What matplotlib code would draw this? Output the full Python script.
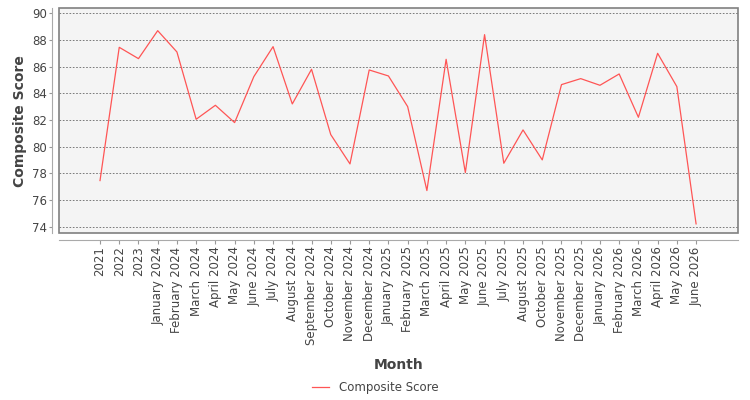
import matplotlib
matplotlib.use("Agg")
import matplotlib.pyplot as plt
from matplotlib.patches import Rectangle

months = ["2021", "2022", "2023",
          "January 2024", "February 2024", "March 2024", "April 2024", "May 2024", "June 2024",
          "July 2024", "August 2024", "September 2024", "October 2024", "November 2024",
          "December 2024", "January 2025", "February 2025", "March 2025", "April 2025",
          "May 2025", "June 2025", "July 2025", "August 2025", "October 2025",
          "November 2025", "December 2025", "January 2026", "February 2026", "March 2026",
          "April 2026", "May 2026", "June 2026"]
scores = [77.45, 87.45, 86.6, 88.7, 87.1, 82.05, 83.1, 81.8, 85.25,
          87.5, 83.2, 85.8, 80.9, 78.7, 85.75, 85.3, 83.0, 76.7, 86.55,
          78.05, 88.4, 78.75, 81.25, 79.0, 84.65, 85.1, 84.6, 85.45, 82.2,
          87.0, 84.5, 74.2]
yticks = [74, 76, 78, 80, 82, 84, 86, 88, 90]

fig = plt.figure(figsize=(7.5, 4), dpi=100)
ax = fig.add_axes([0.079, 0.417, 0.905, 0.562])

x = list(range(len(months)))
ax.plot(x, scores, color="#ff5555", linewidth=0.9, label="Composite Score")

ax.set_facecolor("#f4f4f4")

# offset axis lines first (this resets tick settings)
for s in ["top", "right"]:
    ax.spines[s].set_visible(False)
for s in ["left", "bottom"]:
    ax.spines[s].set_position(("outward", 5))
    ax.spines[s].set_color("#aaaaaa")
    ax.spines[s].set_linewidth(0.8)
ax.add_patch(Rectangle((0, 0), 1, 1, transform=ax.transAxes, fill=False,
                       edgecolor="#808080", linewidth=1.2, clip_on=False, zorder=5))

ax.set_xlim(-2.12, len(months) - 1 + 2.18)
ax.set_ylim(73.5, 90.37)
ax.set_yticks(yticks)
ax.set_xticks(x)
ax.set_xticklabels(months, rotation=90, fontsize=8.5, color="#444444")
ax.tick_params(axis="y", labelsize=8.5, labelcolor="#444444", color="#999999", length=2, pad=2)
ax.tick_params(axis="x", color="#999999", length=3, pad=1.5)
ax.grid(axis="y", color="#666666", linestyle=(0, (2, 2)), linewidth=0.6)
ax.set_axisbelow(True)

ax.set_ylabel("Composite Score", fontsize=10, fontweight="bold", color="#444444", labelpad=3.5)
ax.set_xlabel("Month", fontsize=10, fontweight="bold", color="#444444", labelpad=9)

fig.legend(loc="lower center", bbox_to_anchor=(0.5, -0.012), frameon=False, fontsize=8.5,
           handlelength=1.5, labelcolor="#444444")

fig.savefig("out.png", dpi=100)
